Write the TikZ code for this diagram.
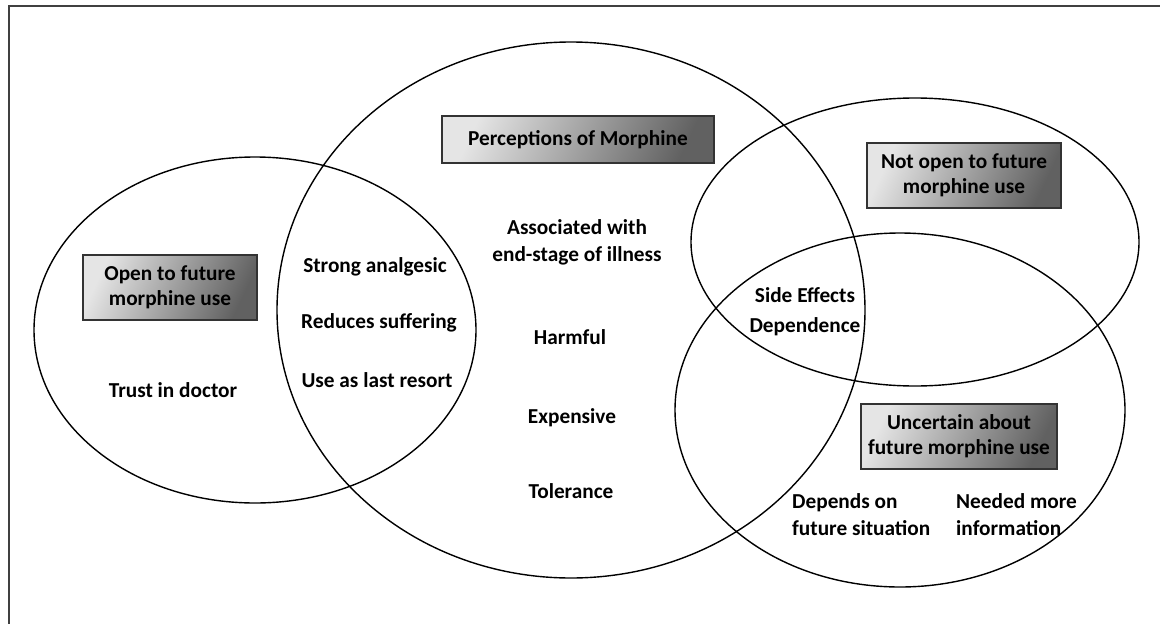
\documentclass[tikz,border=0pt]{standalone}
\usepackage{fontspec}
\setmainfont{Carlito}
\usetikzlibrary{shapes.geometric}
\begin{document}
\begin{tikzpicture}[x=1pt,y=-1pt,
  venn/.style={draw=black, line width=1.4pt, ellipse, inner sep=0pt, outer sep=0pt},
  lbl/.style={font=\fontsize{21.3}{27}\selectfont\bfseries, align=center, inner sep=0pt},
  hdr/.style={draw=black!80, line width=1.2pt, left color=black!10, right color=black!62,
    shading angle=65, font=\fontsize{21.3}{25}\selectfont\bfseries, align=center, inner sep=0pt}]
\useasboundingbox (0,0) rectangle (1160,624);
% frame (only top and left edges visible)
\draw[black!75, line width=2pt] (9,640) -- (9,5.5) -- (1175,5.5);
% Venn ellipses
\node[venn, minimum width=442pt, minimum height=346pt] (eopen) at (255,330) {};
\node[venn, minimum width=588pt, minimum height=536pt] (eperc) at (571,310) {};
\node[venn, minimum width=448pt, minimum height=288pt] (enot) at (915,242) {};
\node[venn, minimum width=450pt, minimum height=354pt] (eunc) at (900,410) {};
% header boxes
\node[hdr, minimum width=272pt, minimum height=47pt] (hperc) at (578,139.5) {Perceptions of Morphine};
\node[hdr, minimum width=174pt, minimum height=65pt] (hopen) at (170,287.5) {Open to future\\morphine use};
\node[hdr, minimum width=194pt, minimum height=65pt] (hnot) at (964,175.5) {Not open to future\\morphine use};
\node[hdr, minimum width=196pt, minimum height=65pt] (hunc) at (959,436.5) {Uncertain about\\future morphine use};
% labels
\node[lbl] (trust) at (173,390) {Trust in doctor};
\node[lbl] (strong) at (375,267) {Strong analgesic};
\node[lbl] (reduces) at (379,323) {Reduces suffering};
\node[lbl] (last) at (377,380) {Use as last resort};
\node[lbl] (assoc) at (577,242.5) {Associated with\\end-stage of illness};
\node[lbl] (harm) at (570,337) {Harmful};
\node[lbl] (exp) at (572,418) {Expensive};
\node[lbl] (tol) at (571,491) {Tolerance};
\node[lbl] (side) at (805,295) {Side Effects};
\node[lbl] (dep) at (805,327) {Dependence};
\node[lbl, align=left, anchor=west] (depends) at (792,514.5) {Depends on\\future situation};
\node[lbl, align=left, anchor=west] (needed) at (956,514.5) {Needed more\\information};
\end{tikzpicture}
\end{document}
